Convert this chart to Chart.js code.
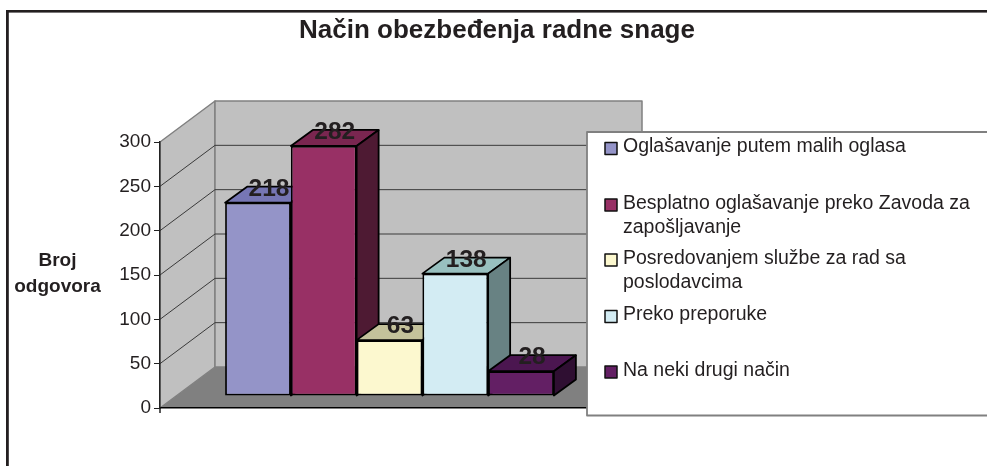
<!DOCTYPE html>
<html><head><meta charset="utf-8">
<style>html,body{margin:0;padding:0;background:#fff}#w{position:relative;width:987px;height:466px}</style>
<script src="https://cdn.jsdelivr.net/npm/chart.js@4/dist/chart.umd.min.js"></script>
</head><body><div id="w"><canvas id="c" width="987" height="466"></canvas></div>
<script>
const chartTitle = 'Način obezbeđenja radne snage';
const axisTitleLines = ['Broj', 'odgovora'];
const categories = [''];
const seriesNames = ['Oglašavanje putem malih oglasa','Besplatno oglašavanje preko Zavoda za zapošljavanje','Posredovanjem službe za rad sa poslodavcima','Preko preporuke','Na neki drugi način'];
const legendLines = [['Oglašavanje putem malih oglasa'],['Besplatno oglašavanje preko Zavoda za','zapošljavanje'],['Posredovanjem službe za rad sa','poslodavcima'],['Preko preporuke'],['Na neki drugi način']];
const seriesValues = [218, 282, 63, 138, 28];
const frontColors = ['#9494c8','#983065','#fcf8cf','#d3ecf3','#631f64'];
const topColors = ['#7676b4','#7a2650','#c4c29b','#98c0bf','#4b1650'];
const sideColors = ['#4a4a64','#4e1a33','#7e7c68','#688283','#2f0f32'];

const INK='#231f20', FONT='"Liberation Sans", Arial, sans-serif';
const WALL={dx:55,dy:-41}, BAR={dx:16,dy:-12}, BOX={dx:22,dy:-16};
const LEG={x:587,y:132,b:415.5,sw:605,swSize:12,tx:623,
  rowY:[[147],[203.5,227.5],[258.5,282.5],[314.5],[370.5]], swY:[148.5,205,260,316.5,372]};

function poly(ctx,pts,fill,stroke,w){ctx.beginPath();pts.forEach((p,i)=>i?ctx.lineTo(p[0],p[1]):ctx.moveTo(p[0],p[1]));ctx.closePath();
  if(fill){ctx.fillStyle=fill;ctx.fill();} if(stroke){ctx.strokeStyle=stroke;ctx.lineWidth=w;ctx.lineJoin='round';ctx.stroke();}}

const scene={id:'scene',
 afterLayout(ch){ch.titleBlock.left=7;ch.titleBlock.right=987;},
 beforeDraw(ch){const c=ch.ctx,a=ch.chartArea,y=ch.scales.y,d=WALL;
  c.save();
  c.fillStyle=INK;c.fillRect(6,10,981,2.6);c.fillRect(6,10,2.8,456);
  const L=a.left,R=a.right,T=a.top,B=a.bottom;
  poly(c,[[L,B],[R,B],[R+d.dx,B+d.dy],[L+d.dx,B+d.dy]],'#808080');
  poly(c,[[L,B],[L,T],[L+d.dx,T+d.dy],[L+d.dx,B+d.dy]],'#c0c0c0','#808080',1.5);
  poly(c,[[L+d.dx,T+d.dy],[R+d.dx,T+d.dy],[R+d.dx,B+d.dy],[L+d.dx,B+d.dy]],'#c0c0c0','#808080',1.5);
  c.strokeStyle='#3a3a3a';c.lineWidth=1;
  y.ticks.forEach(t=>{if(t.value<=0||t.value>=300)return;const p=y.getPixelForValue(t.value);
    c.beginPath();c.moveTo(L,p);c.lineTo(L+d.dx,p+d.dy);c.lineTo(R+d.dx,p+d.dy);c.stroke();});
  c.strokeStyle='#222';c.lineWidth=1.5;c.beginPath();c.moveTo(L,B);c.lineTo(L,B+5);c.stroke();
  c.restore();},
 beforeDatasetDraw(){return false;},
 afterDatasetsDraw(ch){const c=ch.ctx,d=BOX;
  c.save();c.translate(BAR.dx,BAR.dy);
  seriesValues.forEach((v,i)=>{const el=ch.getDatasetMeta(i).data[0];
    const l=el.x-el.width/2,r=el.x+el.width/2,t=el.y,b=el.base;
    poly(c,[[l,t],[r,t],[r+d.dx,t+d.dy],[l+d.dx,t+d.dy]],topColors[i],'#000',1.8);
    poly(c,[[r,t],[r+d.dx,t+d.dy],[r+d.dx,b+d.dy],[r,b]],sideColors[i],'#000',1.8);
    el.draw(c);});
  c.fillStyle=INK;c.font='bold 24.5px '+FONT;c.textAlign='center';c.textBaseline='middle';
  seriesValues.forEach((v,i)=>{const el=ch.getDatasetMeta(i).data[0];
    c.fillText(String(v),el.x+BOX.dx/2,el.y+BOX.dy+2.5);});
  c.restore();c.save();
  c.fillStyle=INK;c.font='bold 19px '+FONT;c.textAlign='center';c.textBaseline='middle';
  axisTitleLines.forEach((s,i)=>c.fillText(s,57.5,261+i*26));
  poly(c,[[LEG.x,LEG.y],[1000,LEG.y],[1000,LEG.b],[LEG.x,LEG.b]],'#fff','#808080',1.8);
  c.font='19.5px '+FONT;c.textAlign='left';
  legendLines.forEach((ls,i)=>{
    c.fillStyle=frontColors[i];c.strokeStyle='#111';c.lineWidth=1.5;
    c.fillRect(LEG.sw,LEG.swY[i]-LEG.swSize/2,LEG.swSize,LEG.swSize);
    c.strokeRect(LEG.sw,LEG.swY[i]-LEG.swSize/2,LEG.swSize,LEG.swSize);
    c.fillStyle=INK;ls.forEach((s,j)=>c.fillText(s,LEG.tx,LEG.rowY[i][j]));});
  c.restore();}
};

new Chart(document.getElementById('c'),{type:'bar',
 data:{labels:categories,datasets:seriesNames.map((n,i)=>({label:n,data:[seriesValues[i]],
   backgroundColor:frontColors[i],borderColor:'#000',borderWidth:1.8,borderSkipped:false,clip:false,
   categoryPercentage:0.77,barPercentage:1}))},
 options:{responsive:false,animation:false,
  layout:{padding:{left:7,right:400,top:0,bottom:58}},
  plugins:{legend:{display:false},tooltip:{enabled:false},
   title:{display:true,text:chartTitle,color:INK,font:{family:FONT,size:26,weight:'bold',lineHeight:1.2},padding:{top:15,bottom:95.8}}},
  scales:{
   x:{afterFit(s){s.height=0;},grid:{display:false},border:{color:'#000',width:1.5},ticks:{display:false}},
   y:{min:0,max:300,afterFit(s){s.width=153;},
    border:{color:'#222',width:1.5},
    grid:{drawOnChartArea:false,color:'#222',tickLength:6,lineWidth:1},
    ticks:{stepSize:50,color:INK,padding:3,font:{family:FONT,size:19}}}}},
 plugins:[scene]});
</script></body></html>
